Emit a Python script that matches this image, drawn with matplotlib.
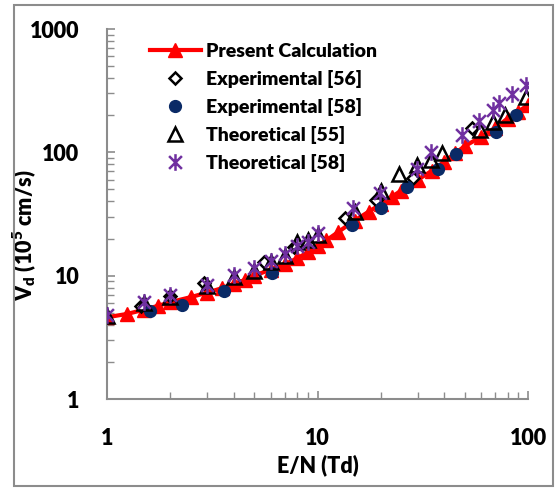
import matplotlib
matplotlib.use("Agg")
import matplotlib.pyplot as plt
from matplotlib.path import Path
from matplotlib.patches import Rectangle
from matplotlib.ticker import LogLocator, NullFormatter, FixedLocator

# ---- data ----
calc_x = [1, 1.25, 1.5, 1.75, 2, 2.5, 3, 3.5, 4, 4.5, 5, 6, 7, 8, 9, 10, 11, 12.5, 15,
          17.5, 20, 22.5, 25, 30, 35, 40, 45, 50, 60, 70, 80, 90, 100]
calc_y = [4.6, 4.9, 5.3, 5.7, 6.1, 6.7, 7.3, 7.9, 8.6, 9.2, 10.0, 11.2, 12.4, 13.8, 15.5,
          17.3, 19.3, 22.5, 28, 33, 38, 43.5, 49, 60, 71, 84, 98, 112, 134, 158, 188, 214, 242]

exp56_x = [1.45, 2.0, 2.9, 5.6, 7.7, 13.5, 19, 28.5, 54]
exp56_y = [5.7, 6.8, 8.7, 13.0, 17.2, 29.5, 41, 62, 157]

exp58_x = [1.6, 2.26, 3.6, 6.1, 14.6, 20, 26.5, 37.5, 45.4, 70.3, 87.5]
exp58_y = [5.2, 5.8, 7.5, 10.5, 25.8, 35.2, 52, 73, 97, 147, 199]

th55_x = [1, 1.5, 2, 3, 4, 5, 6, 7, 8, 9, 10, 15, 20, 24.5, 29.6, 34.5, 39.2, 59, 68.4, 77.8, 98]
th55_y = [4.7, 6.0, 6.7, 8.3, 9.8, 11.0, 12.8, 14.5, 18.9, 19.5, 21.5, 33, 49, 67, 79, 86, 98, 152, 177, 201, 283]

th58_x = [1, 1.5, 2, 3, 4, 5, 6, 7, 8, 9, 10, 14.8, 19.8, 29.6, 34.5, 48.4, 58.7, 68.4, 73.1, 83.7, 97.8]
th58_y = [4.8, 6.15, 7.0, 8.4, 10.1, 11.5, 13.2, 15.0, 17.4, 18.9, 22.1, 35.2, 47.1, 73.4, 101, 137, 181, 221, 250, 298, 352]

series_labels = ["Present Calculation", "Experimental [56]", "Experimental [58]",
                 "Theoretical [55]", "Theoretical [58]"]
x_ticks = [1, 10, 100]
x_ticklabels = ["1", "10", "100"]
y_ticks = [1, 10, 100, 1000]
y_ticklabels = ["1", "10", "100", "1000"]

FONT = "Lato"
W = 'heavy'
plt.rcParams['font.family'] = [FONT, 'DejaVu Sans']
plt.rcParams['font.weight'] = W
plt.rcParams['mathtext.fontset'] = 'custom'
plt.rcParams['mathtext.rm'] = 'Lato:heavy'
plt.rcParams['mathtext.bf'] = 'Lato:heavy'
plt.rcParams['mathtext.it'] = 'Lato:heavy'

fig = plt.figure(figsize=(5.56, 4.88), dpi=100)
ax = fig.add_axes([107/556, 1-399/488, (528-107)/556, (399-29)/488])

# Excel-like star marker: X plus vertical bar
star_path = Path([(-1, -1), (1, 1), (-1, 1), (1, -1), (0, -1.3), (0, 1.3)],
                 [Path.MOVETO, Path.LINETO, Path.MOVETO, Path.LINETO, Path.MOVETO, Path.LINETO])

ax.plot(calc_x, calc_y, color='#ff0000', lw=3, marker='^', ms=10, mec='#ff0000',
        mfc='#ff0000', label=series_labels[0], zorder=2)
ax.plot(exp56_x, exp56_y, ls='none', marker='D', ms=6.5, mfc='white', mec='black', mew=1.8,
        label=series_labels[1], zorder=3)
ax.plot(exp58_x, exp58_y, ls='none', marker='o', ms=8.5, mfc='#0a2a66', mec='#0a2a66',
        label=series_labels[2], zorder=3)
ax.plot(th55_x, th55_y, ls='none', marker='^', ms=10, mfc='none', mec='black', mew=1.8,
        label=series_labels[3], zorder=4)
ax.plot(th58_x, th58_y, ls='none', marker=star_path, ms=12, mfc='none', mec='#7030a0', mew=1.8,
        label=series_labels[4], zorder=5)

ax.set_xscale('log')
ax.set_yscale('log')
ax.set_xlim(1, 100)
ax.set_ylim(1, 1000)

ax.xaxis.set_major_locator(FixedLocator(x_ticks))
ax.set_xticklabels(x_ticklabels)
ax.yaxis.set_major_locator(FixedLocator(y_ticks))
ax.set_yticklabels(y_ticklabels)
ax.xaxis.set_minor_locator(LogLocator(base=10, subs=range(2, 10)))
ax.yaxis.set_minor_locator(LogLocator(base=10, subs=range(2, 10)))
ax.xaxis.set_minor_formatter(NullFormatter())
ax.yaxis.set_minor_formatter(NullFormatter())

for s in ['top', 'right']:
    ax.spines[s].set_visible(False)
for s in ['left', 'bottom']:
    ax.spines[s].set_color('#8c8c8c')
    ax.spines[s].set_linewidth(1.5)

ax.tick_params(which='major', direction='in', length=6, width=1.2, color='#8c8c8c',
               labelsize=15.5)
ax.tick_params(which='minor', direction='in', length=5, width=1.0, color='#8c8c8c')
ax.tick_params(axis='y', which='major', pad=20)
ax.tick_params(axis='x', which='major', pad=21)
for lab in ax.get_xticklabels() + ax.get_yticklabels():
    lab.set_fontweight(W)

ax.set_xlabel("E/N (Td)", fontsize=15.5, fontweight=W, labelpad=4)
ax.set_ylabel(r"V$_\mathregular{d}$ (10$^\mathregular{5}$ cm/s)", fontsize=15.5, fontweight=W)
ax.yaxis.set_label_coords(-0.164, 0.443)

leg = ax.legend(loc='upper left', bbox_to_anchor=(0.07, 1.0), frameon=False,
                fontsize=14, handlelength=2.6, handletextpad=0.3, labelspacing=0.52,
                borderaxespad=0.3)
for t in leg.get_texts():
    t.set_fontweight(W)

fig.patches.append(Rectangle((14/556, 1-486/488), (553-14)/556, (486-5)/488,
                             transform=fig.transFigure, fill=False, edgecolor='#8c8c8c',
                             lw=1.5))

fig.savefig("out.png", dpi=100)
